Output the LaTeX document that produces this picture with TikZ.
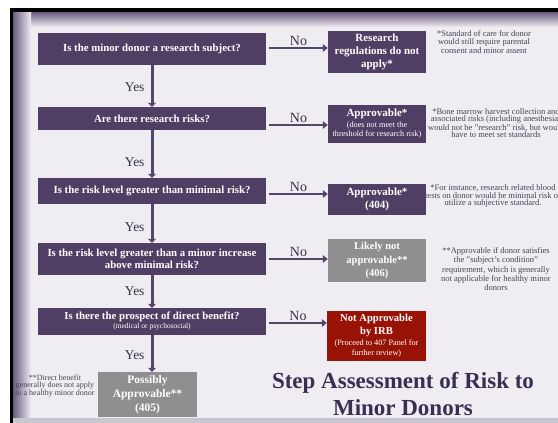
\documentclass[tikz,border=0pt]{standalone}
\usepackage{fontspec}
\setmainfont{Liberation Serif}
\usetikzlibrary{arrows.meta}

\definecolor{qpurple}{HTML}{503F64}
\definecolor{arrowc}{HTML}{56456B}
\definecolor{slidebg}{HTML}{EFECF2}
\definecolor{edgepurple}{HTML}{6A5A80}
\definecolor{greybox}{HTML}{8F8F8F}
\definecolor{redbox}{HTML}{981305}
\definecolor{titlec}{HTML}{3C2E52}
\definecolor{notec}{HTML}{4A4353}
\definecolor{labelc}{HTML}{3A3344}
\definecolor{footband}{HTML}{CAC6CF}

\tikzset{
  qbox/.style={fill=qpurple, text=white, inner sep=0pt, align=center,
    minimum width=228pt, font=\bfseries\fontsize{10.8}{12.5}\selectfont},
  rbox/.style={text=white, inner sep=0pt, align=center,
    minimum width=98pt, font=\bfseries\fontsize{11}{13}\selectfont},
  notetext/.style={text=notec, align=center, inner sep=0pt,
    font=\fontsize{8.5}{7.4}\selectfont},
  yeslabel/.style={text=labelc, inner sep=0pt, font=\fontsize{13.5}{15}\selectfont},
  nolabel/.style={text=labelc, inner sep=1pt, font=\fontsize{14}{15}\selectfont},
  varrow/.style={draw=arrowc, line width=3pt, -{Triangle[length=4pt,width=8pt]}},
  harrow/.style={draw=arrowc, line width=2.6pt, -{Triangle[length=5pt,width=7.5pt]}},
  titletext/.style={text=titlec, align=center, inner sep=0pt,
    font=\bfseries\fontsize{23}{27}\selectfont}
}
\newcommand{\smallline}{\normalfont\fontsize{8.2}{9}\selectfont}

\begin{document}
\begin{tikzpicture}[x=1pt,y=-1pt]
\useasboundingbox (0,0) rectangle (558,423);

% slide frame and background
\fill[white] (0,0) rectangle (558,423);
\fill[black] (10,8) rectangle (558,423);
\fill[slidebg] (13,12) rectangle (558,419);
\shade[top color=edgepurple, bottom color=slidebg] (13,12) rectangle (558,27);
\shade[left color=edgepurple, right color=slidebg] (13,12) rectangle (31,419);
\fill[footband] (13,418) rectangle (558,423);

% question boxes
\node[qbox, minimum height=32pt] (q1) at (152,49) {Is the minor donor a research subject?};
\node[qbox, minimum height=23pt] (q2) at (152,118.5) {Are there research risks?};
\node[qbox, minimum height=26pt] (q3) at (152,191) {Is the risk level greater than minimal risk?};
\node[qbox, minimum height=32pt] (q4) at (152,259) {Is the risk level greater than a minor increase\\above minimal risk?};
\node[qbox, minimum height=27pt] (q5) at (152,321.5) {Is there the prospect of direct benefit?\\[-3.5pt]{\normalfont\fontsize{7.5}{8}\selectfont (medical or psychosocial)}};

% outcome boxes
\node[rbox, fill=qpurple, minimum height=42pt] (r1) at (377,52) {Research\\regulations do not\\apply*};
\node[rbox, fill=qpurple, minimum height=38pt] (r2) at (377,124) {Approvable*\\[-2pt]{\smallline (does not meet the}\\[-4pt]{\smallline threshold for research risk)}};
\node[rbox, fill=qpurple, minimum height=31pt] (r3) at (377,199.5) {Approvable*\\(404)};
\node[rbox, fill=greybox, minimum height=43pt, font=\bfseries\fontsize{10.5}{13.5}\selectfont] (r4) at (377,260.5) {Likely not\\approvable**\\(406)};
\node[rbox, fill=redbox, minimum height=50pt, minimum width=99pt, font=\bfseries\fontsize{10.6}{13}\selectfont] (r5) at (376.5,336) {Not Approvable\\by IRB\\[-2pt]{\smallline (Proceed to 407 Panel for}\\[-3pt]{\smallline further review)}};
\node[rbox, fill=greybox, minimum height=45pt, minimum width=99pt, font=\bfseries\fontsize{11.5}{14}\selectfont] (pa) at (147.5,394.5) {Possibly\\Approvable**\\(405)};

% heights of the "No" connectors
\coordinate (h1) at (0,48);
\coordinate (h2) at (0,125);
\coordinate (h3) at (0,194);
\coordinate (h4) at (0,259);
\coordinate (h5) at (0,323);

% "Yes" connectors
\draw[varrow] (q1.south) -- (q2.north) node[yeslabel, pos=0.52, left=6pt] {Yes};
\draw[varrow] (q2.south) -- (q3.north) node[yeslabel, pos=0.68, left=6pt] {Yes};
\draw[varrow] (q3.south) -- (q4.north) node[yeslabel, pos=0.6, left=6pt] {Yes};
\draw[varrow] (q4.south) -- (q5.north) node[yeslabel, pos=0.5, left=6pt] {Yes};
\draw[varrow] (q5.south) -- (pa.north -| q5.south) node[yeslabel, pos=0.55, left=6pt] {Yes};

% "No" connectors
\draw[harrow] (q1.east |- h1) ++(3,0) -- (r1.west |- h1) node[nolabel, midway, above] {No};
\draw[harrow] (q2.east |- h2) ++(3,0) -- (r2.west |- h2) node[nolabel, midway, above] {No};
\draw[harrow] (q3.east |- h3) ++(3,0) -- (r3.west |- h3) node[nolabel, midway, above] {No};
\draw[harrow] (q4.east |- h4) ++(3,0) -- (r4.west |- h4) node[nolabel, midway, above] {No};
\draw[harrow] (q5.east |- h5) ++(3,0) -- (r5.west |- h5) node[nolabel, midway, above] {No};

% side notes
\node[notetext] (n1) at (484,42) {*Standard of care for donor\\would still require parental\\consent and minor assent};
\node[notetext] (n2) at (496,123) {*Bone marrow harvest collection and\\associated risks (including anesthesia)\\would not be "research" risk, but would\\have to meet set standards};
\node[notetext] (n3) at (493,196) {*For instance, research related blood\\tests on donor would be minimal risk or\\utilize a subjective standard.};
\node[notetext] (n4) at (496,269) {**Approvable if donor satisfies\\the "subject's condition"\\[1.5pt]requirement, which is generally\\not applicable for healthy minor\\donors};
\node[notetext, font=\fontsize{8}{7.4}\selectfont] (n5) at (55,386) {**Direct benefit\\generally does not apply\\to a healthy minor donor};

% title
\node[titletext] (title) at (403,394) {Step Assessment of Risk to\\Minor Donors};
\end{tikzpicture}
\end{document}
